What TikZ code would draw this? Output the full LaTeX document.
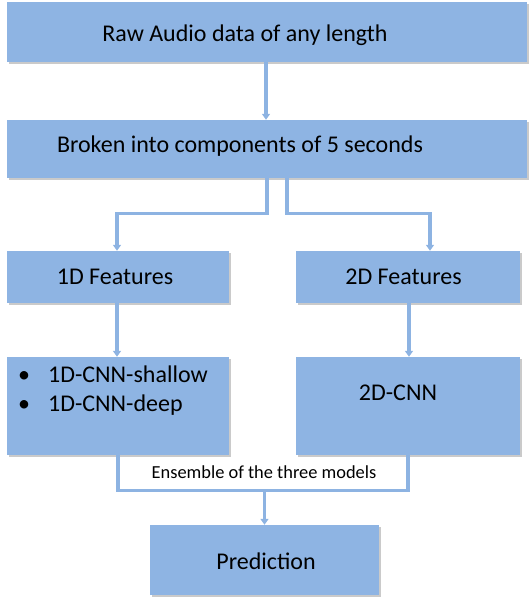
\documentclass[tikz,border=0pt]{standalone}
\usepackage{fontspec}
\setmainfont{Carlito}
\usetikzlibrary{arrows.meta,shadows}
\definecolor{boxblue}{HTML}{8EB4E3}
\definecolor{lineblue}{HTML}{8DB3E2}
\begin{document}
\begin{tikzpicture}[x=1pt,y=-1pt,
  box/.style={rectangle, fill=boxblue, draw=none, inner sep=0pt,
    drop shadow={shadow xshift=1.5pt, shadow yshift=-2pt, opacity=0.35, fill=black!60}},
  lbl/.style={font=\fontsize{24}{29}\selectfont, text=black, inner sep=0pt},
  small/.style={font=\fontsize{18.4}{21}\selectfont, text=black, inner sep=0pt},
  conn/.style={draw=lineblue, line width=3.2pt},
  arr/.style={conn, -{Triangle[width=8pt,length=6pt]}}]
\useasboundingbox (0,0) rectangle (532,602);

% boxes
\node[box, minimum width=520pt, minimum height=60pt] (raw) at (267,32) {};
\node[box, minimum width=520pt, minimum height=58pt] (broken) at (267,149) {};
\node[box, minimum width=222pt, minimum height=52pt] (f1) at (118,277) {};
\node[box, minimum width=224pt, minimum height=52pt] (f2) at (408,277) {};
\node[box, minimum width=222pt, minimum height=98pt] (c1) at (118,406) {};
\node[box, minimum width=224pt, minimum height=98pt] (c2) at (408,406) {};
\node[box, minimum width=229pt, minimum height=70pt] (pred) at (264.5,560) {};

% texts
\node[lbl] (traw) at (245,35) {Raw Audio data of any length};
\node[lbl] (tbroken) at (240,146) {Broken into components of 5 seconds};
\node[lbl] (tf1) at (115,277) {1D Features};
\node[lbl] (tf2) at (403.5,277) {2D Features};
\node[lbl, anchor=west, align=left] (tc1) at (18,390.5)
  {\makebox[30pt][l]{\textbullet}1D-CNN-shallow\\\makebox[30pt][l]{\textbullet}1D-CNN-deep};
\node[lbl] (tc2) at (398,393) {2D-CNN};
\node[lbl] (tpred) at (266,561) {Prediction};
\node[small] (tens) at (264,472) {Ensemble of the three models};

% connectors
\draw[arr] ([xshift=-1pt]raw.south) -- ([xshift=-1pt]broken.north);
\draw[arr] (broken.south) -- ++(0,35) -| ([xshift=-1pt]f1.north);
\draw[arr] ([xshift=20pt]broken.south) -- ++(0,35) -| ([xshift=22pt]f2.north);
\draw[arr] ([xshift=-1pt]f1.south) -- ([xshift=-1pt]c1.north);
\draw[arr] ([xshift=1pt]f2.south) -- ([xshift=1pt]c2.north);
\draw[conn] (c1.south) -- ++(0,35) -| (c2.south);
\coordinate (ens) at (264.5,490);
\draw[arr] (ens) -- (pred.north);
\end{tikzpicture}
\end{document}
